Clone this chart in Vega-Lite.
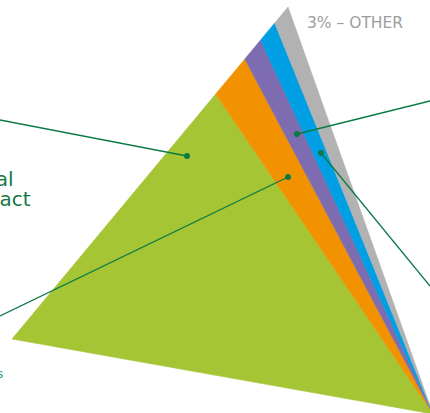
{
  "$schema": "https://vega.github.io/schema/vega-lite/v6.json",
  "width": 430,
  "height": 413,
  "autosize": "none",
  "padding": 0,
  "background": "#ffffff",
  "config": {"view": {"stroke": null}},
  "datasets": {
    "stripes": [
      {"stripe": "green", "i": 1, "x": 215.7, "y": 94},
      {"stripe": "green", "i": 2, "x": 12, "y": 339},
      {"stripe": "green", "i": 3, "x": 433, "y": 414},
      {"stripe": "orange", "i": 1, "x": 244.8, "y": 59},
      {"stripe": "orange", "i": 2, "x": 215.7, "y": 94},
      {"stripe": "orange", "i": 3, "x": 433, "y": 414},
      {"stripe": "purple", "i": 1, "x": 260.6, "y": 40},
      {"stripe": "purple", "i": 2, "x": 244.8, "y": 59},
      {"stripe": "purple", "i": 3, "x": 433, "y": 414},
      {"stripe": "blue", "i": 1, "x": 274.7, "y": 23},
      {"stripe": "blue", "i": 2, "x": 260.6, "y": 40},
      {"stripe": "blue", "i": 3, "x": 433, "y": 414},
      {"stripe": "gray", "i": 1, "x": 288, "y": 7},
      {"stripe": "gray", "i": 2, "x": 274.7, "y": 23},
      {"stripe": "gray", "i": 3, "x": 433, "y": 414}
    ],
    "leaders": [
      {"x": 187, "y": 156, "x2": 0, "y2": 120},
      {"x": 288, "y": 177, "x2": 0, "y2": 316},
      {"x": 297, "y": 134, "x2": 430, "y2": 101},
      {"x": 321, "y": 153, "x2": 430, "y2": 286}
    ]
  },
  "resolve": {"scale": {"x": "shared", "y": "shared"}},
  "layer": [
    {
      "data": {"name": "stripes"},
      "mark": {"type": "line", "strokeWidth": 0.6, "interpolate": "linear-closed"},
      "encoding": {
        "x": {"field": "x", "type": "quantitative", "scale": {"domain": [0, 430], "nice": false, "zero": false}, "axis": null},
        "y": {"field": "y", "type": "quantitative", "scale": {"domain": [0, 413], "nice": false, "zero": false, "reverse": true}, "axis": null},
        "order": {"field": "i"},
        "fill": {"field": "stripe", "type": "nominal", "legend": null,
          "scale": {"domain": ["green", "orange", "purple", "blue", "gray"], "range": ["#a5c535", "#f39200", "#7d6db0", "#009fe3", "#b2b2b2"]}},
        "stroke": {"field": "stripe", "type": "nominal", "legend": null,
          "scale": {"domain": ["green", "orange", "purple", "blue", "gray"], "range": ["#a5c535", "#f39200", "#7d6db0", "#009fe3", "#b2b2b2"]}}
      }
    },
    {
      "data": {"name": "leaders"},
      "mark": {"type": "rule", "color": "#0b7a45", "strokeWidth": 1.3},
      "encoding": {
        "x": {"field": "x", "type": "quantitative"},
        "y": {"field": "y", "type": "quantitative"},
        "x2": {"field": "x2"},
        "y2": {"field": "y2"}
      }
    },
    {
      "data": {"name": "leaders"},
      "mark": {"type": "point", "filled": true, "color": "#0b7a45", "size": 36, "opacity": 1},
      "encoding": {
        "x": {"field": "x", "type": "quantitative"},
        "y": {"field": "y", "type": "quantitative"}
      }
    },
    {
      "data": {"values": [{"label": "Environmental", "x": 13.5, "y": 186}, {"label": "impact", "x": 30.5, "y": 206}]},
      "mark": {"type": "text", "align": "right", "baseline": "alphabetic", "font": "DejaVu Sans", "fontSize": 20, "fontWeight": "normal", "color": "#137a45"},
      "encoding": {
        "x": {"field": "x", "type": "quantitative"},
        "y": {"field": "y", "type": "quantitative"},
        "text": {"field": "label"}
      }
    },
    {
      "data": {"values": [{"label": "3% – OTHER", "x": 307, "y": 28}]},
      "mark": {"type": "text", "align": "left", "baseline": "alphabetic", "font": "DejaVu Sans", "fontSize": 15.5, "fontWeight": "normal", "color": "#9d9d9d"},
      "encoding": {
        "x": {"field": "x", "type": "quantitative"},
        "y": {"field": "y", "type": "quantitative"},
        "text": {"field": "label"}
      }
    },
    {
      "data": {"values": [{"label": "2019 CARBON FOOTPRINT", "x": 125, "y": 423.5}]},
      "mark": {"type": "text", "align": "left", "baseline": "alphabetic", "font": "Lato", "fontSize": 16, "fontWeight": 500, "color": "#3b9e6f"},
      "encoding": {
        "x": {"field": "x", "type": "quantitative"},
        "y": {"field": "y", "type": "quantitative"},
        "text": {"field": "label"}
      }
    },
    {
      "data": {"values": [{"label": "emissions", "x": 3, "y": 378}]},
      "mark": {"type": "text", "align": "right", "baseline": "alphabetic", "font": "Lato", "fontSize": 14, "fontWeight": 500, "color": "#3aa08a"},
      "encoding": {
        "x": {"field": "x", "type": "quantitative"},
        "y": {"field": "y", "type": "quantitative"},
        "text": {"field": "label"}
      }
    }
  ]
}
